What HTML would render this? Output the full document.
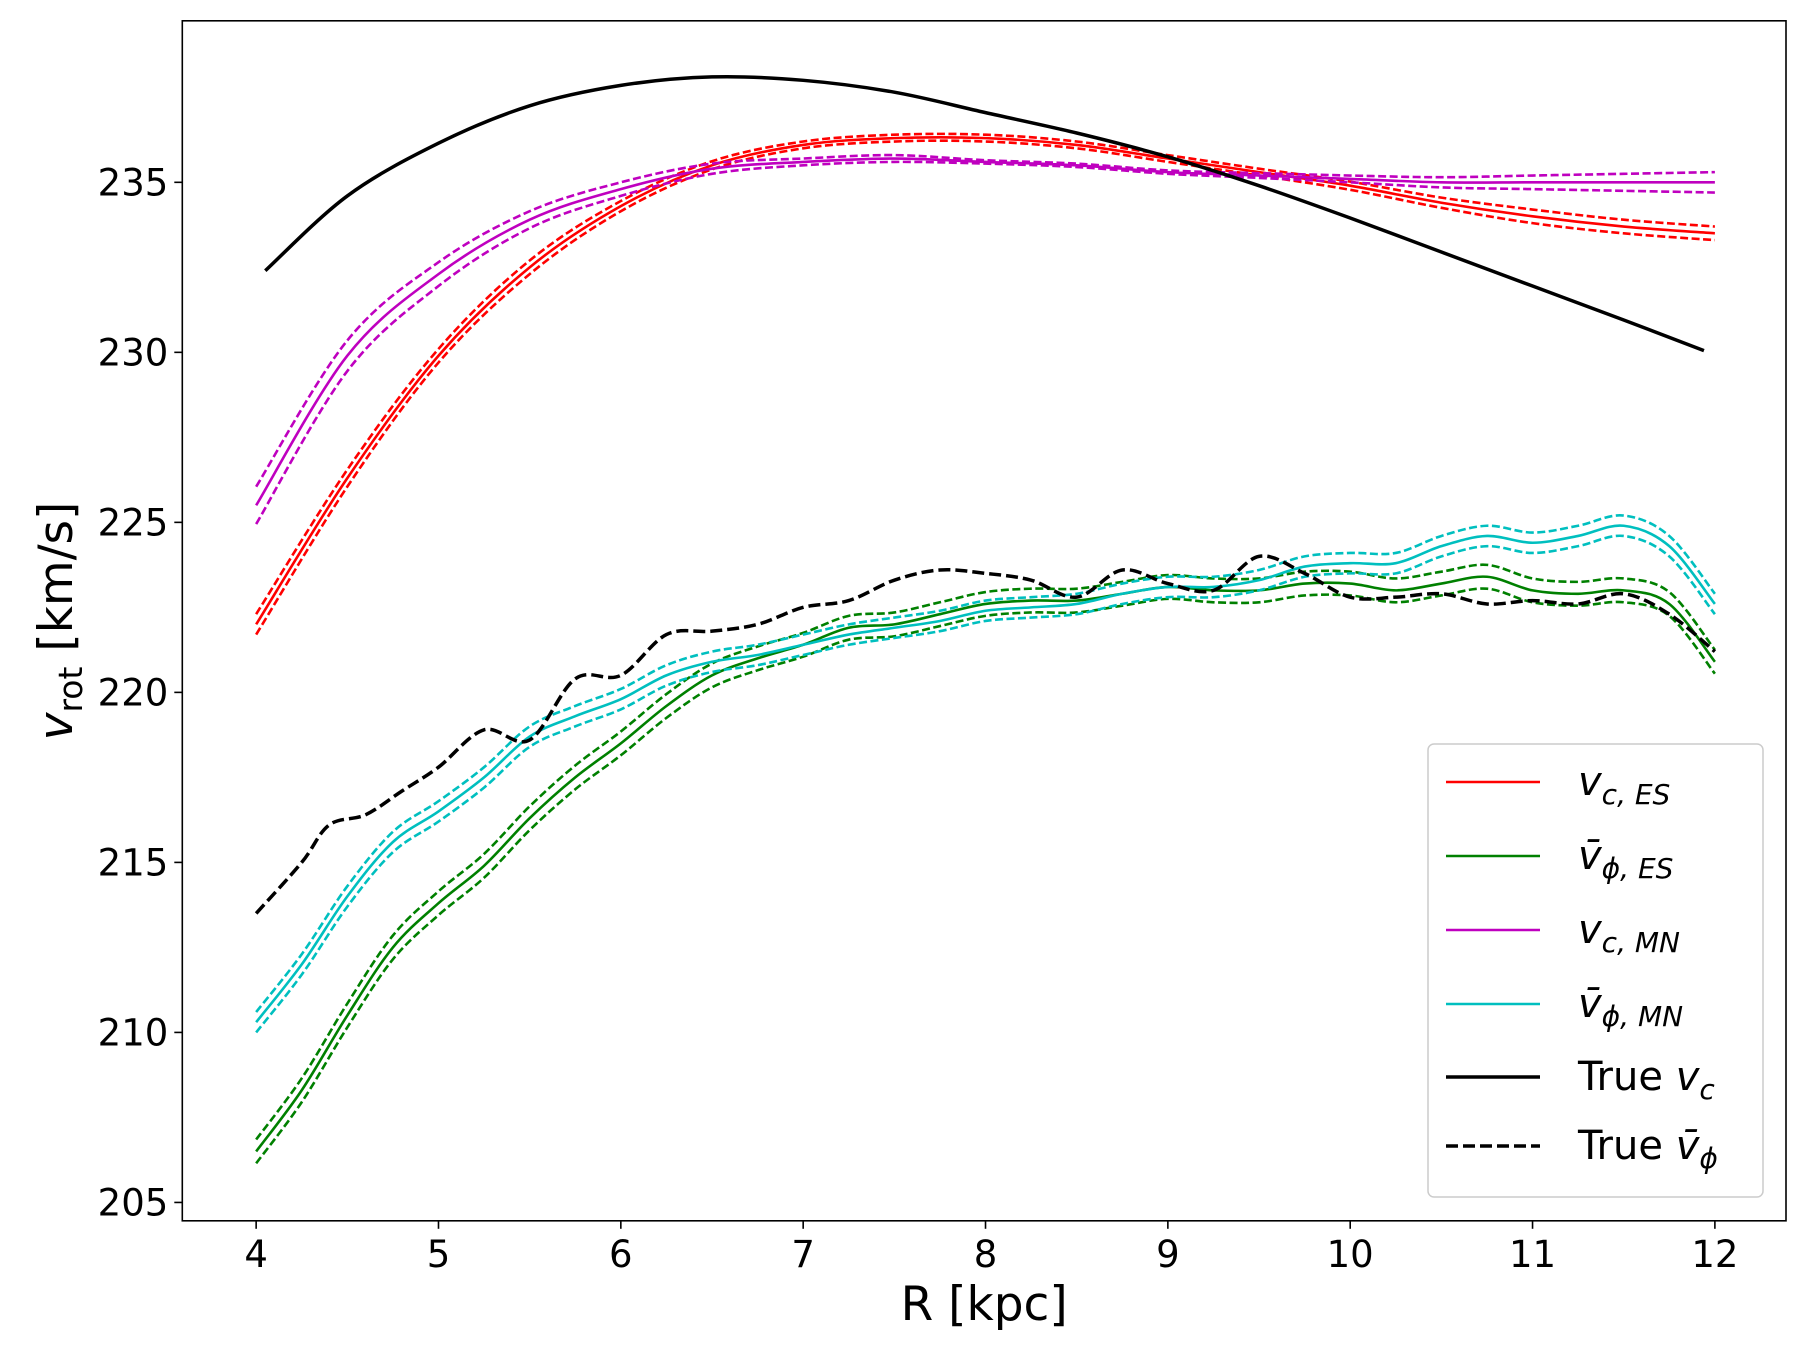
<!DOCTYPE html>
<html><head><meta charset="utf-8"><style>
body{margin:0;background:#fff}
svg text{font-family:"DejaVu Sans","Liberation Sans",sans-serif;fill:#000}
</style></head><body>
<svg id="chart" width="1800" height="1350" viewBox="0 0 1800 1350" xmlns="http://www.w3.org/2000/svg">
<rect x="0" y="0" width="1800" height="1350" fill="#fff"/>
<g id="plot"></g>
<g id="axes"></g>
<g id="legend"></g>
</svg>
<script>
const xDomain=[3.595,12.39], yDomain=[204.46,239.75];
const xTicks=[4,5,6,7,8,9,10,11,12];
const yTicks=[205,210,215,220,225,230,235];
const xTrue=[4.05,4.5,5,5.5,6,6.5,7,7.5,8,8.5,9,9.5,10,10.5,11,11.5,11.94];
const trueVc=[232.4,234.6,236.15,237.25,237.85,238.1,238.0,237.65,237.05,236.45,235.75,234.9,233.95,232.95,231.95,230.95,230.05];
const xSmooth=[4,4.5,5,5.5,6,6.5,7,7.5,8,8.5,9,9.5,10,10.5,11,11.5,12];
const vcES=[222.0,226.3,229.9,232.5,234.3,235.5,236.1,236.3,236.3,236.1,235.7,235.3,234.9,234.4,234.0,233.7,233.5];
const vcESErr=[0.3,0.25,0.2,0.2,0.15,0.12,0.1,0.1,0.1,0.1,0.1,0.1,0.12,0.15,0.2,0.2,0.2];
const vcMN=[225.5,229.9,232.3,233.9,234.8,235.4,235.6,235.7,235.6,235.5,235.3,235.2,235.1,235.0,235.0,235.0,235.0];
const vcMNErr=[0.55,0.45,0.35,0.25,0.2,0.15,0.1,0.1,0.05,0.05,0.05,0.07,0.1,0.15,0.2,0.25,0.3];
const xWig=[4,4.25,4.5,4.75,5,5.25,5.5,5.75,6,6.25,6.5,6.75,7,7.25,7.5,7.75,8,8.25,8.5,8.75,9,9.25,9.5,9.75,10,10.25,10.5,10.75,11,11.25,11.5,11.75,12];
const vphiES=[206.5,208.3,210.5,212.5,213.8,214.9,216.3,217.5,218.5,219.6,220.5,221.0,221.4,221.9,222.0,222.3,222.6,222.7,222.7,222.9,223.1,223.0,223.0,223.2,223.2,223.0,223.2,223.4,223.0,222.9,223.0,222.6,220.9];
const vphiESErr=0.35;
const vphiMN=[210.3,212.0,214.0,215.6,216.5,217.5,218.7,219.3,219.8,220.5,220.9,221.1,221.4,221.7,221.9,222.1,222.4,222.5,222.6,222.9,223.1,223.1,223.3,223.7,223.8,223.8,224.3,224.6,224.4,224.6,224.9,224.3,222.6];
const vphiMNErr=0.3;
const xTV=[4,4.25,4.4,4.6,4.8,5,5.25,5.5,5.75,6,6.25,6.5,6.75,7,7.25,7.5,7.75,8,8.25,8.5,8.75,9,9.25,9.5,9.75,10,10.25,10.5,10.75,11,11.25,11.5,11.75,12];
const trueVphi=[213.5,215.0,216.1,216.4,217.1,217.8,218.9,218.6,220.4,220.5,221.7,221.8,222.0,222.5,222.7,223.3,223.6,223.5,223.3,222.8,223.6,223.2,223.0,224.0,223.5,222.8,222.8,222.9,222.6,222.7,222.6,222.9,222.3,221.2];

const L=182.3,R=1786,T=20.8,B=1220.8;
const sx=v=>L+(v-xDomain[0])/(xDomain[1]-xDomain[0])*(R-L);
const sy=v=>B-(v-yDomain[0])/(yDomain[1]-yDomain[0])*(B-T);
const NS='http://www.w3.org/2000/svg';
function mk(tag,attrs,parent){const e=document.createElementNS(NS,tag);for(const k in attrs)e.setAttribute(k,attrs[k]);parent.appendChild(e);return e;}
function pathD(xs,ys){const p=xs.map((x,i)=>[sx(x),sy(ys[i])]);let d='M'+p[0][0]+','+p[0][1];
 for(let i=0;i<p.length-1;i++){const p0=p[Math.max(0,i-1)],p1=p[i],p2=p[i+1],p3=p[Math.min(p.length-1,i+2)];
 d+=' C'+(p1[0]+(p2[0]-p0[0])/6)+','+(p1[1]+(p2[1]-p0[1])/6)+' '+(p2[0]-(p3[0]-p1[0])/6)+','+(p2[1]-(p3[1]-p1[1])/6)+' '+p2[0]+','+p2[1];}return d;}
const plot=document.getElementById('plot');
function line(xs,ys,color,w,dash,name){const e=mk('path',{d:pathD(xs,ys),fill:'none',stroke:color,'stroke-width':w},plot);if(dash)e.setAttribute('stroke-dasharray',dash);

}
function band(xs,ys,err,color,name){const er=i=>Array.isArray(err)?err[i]:err;
 line(xs,ys.map((v,i)=>v+er(i)),color,2.6,'8,3.5',name+'-upper');
 line(xs,ys.map((v,i)=>v-er(i)),color,2.6,'8,3.5',name+'-lower');
 line(xs,ys,color,2.6,null,name);}
band(xSmooth,vcES,vcESErr,'#ff0000','vc-es-line');
band(xWig,vphiES,vphiESErr,'#008000','vphi-es-line');
band(xSmooth,vcMN,vcMNErr,'#bf00bf','vc-mn-line');
band(xWig,vphiMN,vphiMNErr,'#00bfbf','vphi-mn-line');
line(xTrue,trueVc,'#000',3.5,null,'true-vc-line');
line(xTV,trueVphi,'#000',3.5,'12,5','true-vphi-line');

const ax=document.getElementById('axes');
mk('rect',{x:L,y:T,width:R-L,height:B-T,fill:'none',stroke:'#000','stroke-width':1.6},ax);
xTicks.forEach(t=>{const x=sx(t);mk('line',{x1:x,x2:x,y1:B,y2:B+8,stroke:'#000','stroke-width':1.6},ax);
 const tx=mk('text',{x:x,y:B+46,'text-anchor':'middle','font-size':37},ax);tx.textContent=t;
 
 });
yTicks.forEach(t=>{const y=sy(t);mk('line',{x1:L-8,x2:L,y1:y,y2:y,stroke:'#000','stroke-width':1.6},ax);
 const tx=mk('text',{x:L-14,y:y+13,'text-anchor':'end','font-size':37},ax);tx.textContent=t;
 
 });
const xl=mk('text',{x:(L+R)/2,y:1320,'text-anchor':'middle','font-size':47},ax);xl.textContent='R [kpc]';


const yl=mk('text',{transform:'translate(72,621) rotate(-90)','text-anchor':'middle','font-size':47},ax);
yl.innerHTML='<tspan font-style="italic">v</tspan><tspan font-size="33" dy="10">rot</tspan><tspan dy="-10"> [km/s]</tspan>';



const lg=document.getElementById('legend');
mk('rect',{x:1428,y:744,width:335,height:453,rx:6,fill:'#fff','fill-opacity':0.8,stroke:'#ccc','stroke-width':1.5},lg);
const entries=[['#ff0000',null,'v','c, ES',false],['#008000',null,'v̄','ϕ, ES',false],['#bf00bf',null,'v','c, MN',false],['#00bfbf',null,'v̄','ϕ, MN',false],['#000',null,'v','c',true],['#000','12,5','v̄','ϕ',true]];
const ey=[782,856,930,1004,1077,1146];
entries.forEach((e,i)=>{const y=ey[i];
 const l=mk('line',{x1:1446,x2:1540,y1:y,y2:y,stroke:e[0],'stroke-width':e[4]?3.5:2.6},lg);if(e[1])l.setAttribute('stroke-dasharray',e[1]);
 const t=mk('text',{x:1578,y:y+13,'font-size':40},lg);
 t.innerHTML=(e[4]?'True ':'')+'<tspan font-style="italic">'+e[2]+'</tspan><tspan font-style="italic" font-size="28" dy="9">'+e[3]+'</tspan>';
 
 });
</script>
</body></html>
